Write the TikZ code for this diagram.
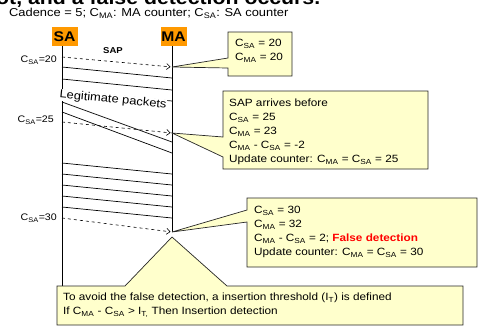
\documentclass[tikz,border=0pt]{standalone}
\usepackage{fontspec}
\setmainfont{Liberation Sans}[FakeStretch=1.12]
\usetikzlibrary{arrows.meta,positioning,calc}
\definecolor{notefill}{RGB}{255,255,204}
\definecolor{headorange}{RGB}{255,153,0}
\newcommand{\csa}{C\textsubscript{SA}}
\newcommand{\cma}{C\textsubscript{MA}}

\begin{document}
\begin{tikzpicture}[x=1pt,y=-1pt,
    every node/.style={inner sep=0pt, font=\fontsize{10.5}{14}\selectfont},
    head/.style={fill=headorange, minimum width=26pt, minimum height=19pt,
        font=\fontsize{14}{15}\bfseries\selectfont},
    lifeline/.style={line width=0.8pt},
    packet/.style={line width=0.7pt},
    sapmsg/.style={dashed, line width=0.6pt, shorten >=1.5pt,
        -{Straight Barb[length=3.5pt,width=6pt]}},
    notebox/.style={fill=notefill, draw=black!85, line width=0.7pt},
    countlabel/.style={anchor=east, font=\fontsize{9.5}{11}\selectfont},
    notetext/.style={anchor=north west, align=left}]
    \clip (0,0) rectangle (478,327);
    \useasboundingbox (0,0) rectangle (478,327);

    % Heading (cut at the top)
    \node[anchor=base west, font=\fontsize{19}{19}\bfseries\selectfont] (title) at (-4,4) {ot, and a false detection occurs.};
    \node[anchor=west, font=\fontsize{11.5}{12}\selectfont] (cadence) at (9,13.5) {Cadence = 5; \cma: MA counter; \csa: SA counter};

    % Entities
    \node[head] (sahead) at (64.5,36.5) {SA};
    \node[head] (mahead) at (173.5,36.5) {MA};
    \coordinate (sa) at (62,46);
    \coordinate (ma) at (172,46);
    \coordinate (tip20) at (ma |- 0,67);
    \coordinate (tip25) at (ma |- 0,133);
    \coordinate (tip30) at (ma |- 0,232);

    % Lifelines
    \draw[lifeline] (sa) -- (sa |- 0,286);
    \draw[lifeline] (ma) -- (tip30);

    % Legitimate packets
    \foreach \y in {67,79,90,163,174,185,196,207}
        \draw[packet] (sa |- 0,\y) -- (ma |- 0,\y+11);
    \draw[packet] (sa |- 0,102) -- (ma |- 0,142);
    \draw[packet] (sa |- 0,112) -- (ma |- 0,153);
    \node[rotate=-5.7, fill=white, inner sep=0.5pt, font=\fontsize{11.5}{12}\selectfont] (legit) at (113,100) {Legitimate packets};

    % SAP messages
    \node[font=\fontsize{8.5}{10}\bfseries\selectfont] (sap) at (113,51) {SAP};
    \draw[sapmsg] (sa |- 0,57) -- (tip20);
    \draw[sapmsg] (sa |- 0,122) -- (tip25);
    \draw[sapmsg] (sa |- 0,218) -- (tip30);
    \node[countlabel] (c20) at (57,60) {\csa=20};
    \node[countlabel] (c25) at (54,120) {\csa=25};
    \node[countlabel] (c30) at (57,218) {\csa=30};

    % Callouts
    \draw[notebox] (228,32) -- (292,32) -- (292,76) -- (228,76) -- (228,68) -- (tip20) -- (228,58) -- cycle;
    \node[notetext] (note20) at (235,39) {\csa{} = 20\\ \cma{} = 20};

    \draw[notebox] (223,91) -- (428,91) -- (428,169) -- (223,169) -- (223,157) -- (tip25) -- (223,137) -- cycle;
    \node[notetext] (note25) at (229,99) {SAP arrives before\\ \csa{} = 25\\ \cma{} = 23\\
        \cma{} - \csa{} = -2\\ Update counter: \cma{} = \csa{} = 25};

    \draw[notebox] (247,198) -- (477,198) -- (477,267) -- (247,267) -- (247,222) -- (tip30) -- (247,210) -- cycle;
    \node[notetext] (note30) at (254,206) {\csa{} = 30\\ \cma{} = 32\\
        \cma{} - \csa{} = 2; \textcolor{red}{\bfseries False detection}\\ Update counter: \cma{} = \csa{} = 30};

    \draw[notebox] (57,286) -- (125,286) -- ($(tip30)+(0,5)$) -- (227,286) -- (463,286) -- (463,325) -- (57,325) -- cycle;
    \node[notetext] (threshold) at (63,293) {To avoid the false detection, a insertion threshold (I\textsubscript{T}) is defined\\
        If \cma{} - \csa{} > I\textsubscript{T,} Then Insertion detection};
\end{tikzpicture}
\end{document}
